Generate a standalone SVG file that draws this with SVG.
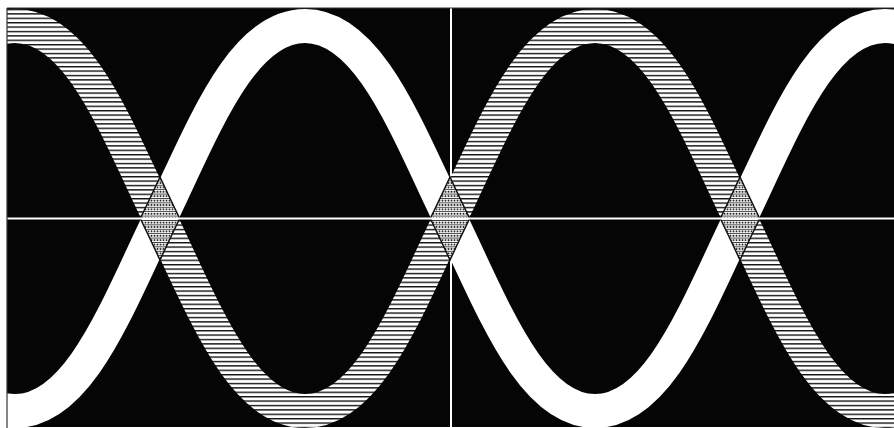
<svg xmlns="http://www.w3.org/2000/svg" width="894" height="428" viewBox="0 0 894 428">
<style>
.band{fill:none;stroke-width:34}
.ref{stroke:#fff;stroke-width:2}
</style>
<defs>
<pattern id="hatch" patternUnits="userSpaceOnUse" width="20" height="4.4">
<rect width="20" height="4.4" fill="#fff"/>
<rect y="0" width="20" height="1.4" fill="#111"/>
</pattern>
<pattern id="dots" patternUnits="userSpaceOnUse" width="3" height="4.4">
<rect width="3" height="4.4" fill="#fff"/>
<rect width="3" height="0.8" fill="#222"/>
<circle cx="1.5" cy="2.6" r="1" fill="#222"/>
</pattern>
<path id="hp" d="M -275 411 c 64 0,101.4 -102.5,145 -192.5 c 43.6 -90,81 -192.5,145 -192.5 c 64 0,101.4 102.5,145 192.5 c 43.6 90,81 192.5,145 192.5 c 64 0,101.4 -102.5,145 -192.5 c 43.6 -90,81 -192.5,145 -192.5 c 64 0,101.4 102.5,145 192.5 c 43.6 90,81 192.5,145 192.5 c 64 0,101.4 -102.5,145 -192.5 c 43.6 -90,81 -192.5,145 -192.5"/>
<path id="wp" d="M -275 26 c 64 0,101.4 102.5,145 192.5 c 43.6 90,81 192.5,145 192.5 c 64 0,101.4 -102.5,145 -192.5 c 43.6 -90,81 -192.5,145 -192.5 c 64 0,101.4 102.5,145 192.5 c 43.6 90,81 192.5,145 192.5 c 64 0,101.4 -102.5,145 -192.5 c 43.6 -90,81 -192.5,145 -192.5 c 64 0,101.4 102.5,145 192.5 c 43.6 90,81 192.5,145 192.5"/>
<clipPath id="frame"><rect x="7" y="8" width="887" height="420"/></clipPath>
<mask id="mH36" maskUnits="userSpaceOnUse" x="0" y="0" width="894" height="428">
<use href="#hp" fill="none" stroke="#fff" stroke-width="37"/>
</mask>
<mask id="mH34" maskUnits="userSpaceOnUse" x="0" y="0" width="894" height="428">
<use href="#hp" fill="none" stroke="#fff" stroke-width="34"/>
</mask>
</defs>
<rect width="894" height="428" fill="#fff"/>
<rect id="background" x="7" y="8" width="887" height="419" fill="#050505"/>
<g id="vertical-axis">
<line class="ref" x1="451" y1="8" x2="451" y2="427"/>
</g>
<g id="waves" clip-path="url(#frame)">
<g id="white-band"><use href="#wp" class="band" stroke="#fff"/></g>
<g id="hatched-band"><use href="#hp" class="band" stroke="url(#hatch)"/></g>
<g id="crossings">
<use href="#wp" fill="none" stroke="#111" stroke-width="37" mask="url(#mH36)"/>
<use href="#wp" fill="none" stroke="url(#dots)" stroke-width="34" mask="url(#mH34)"/>
</g>
</g>
<g id="horizontal-axis">
<line class="ref" x1="7" y1="218.5" x2="894" y2="218.5"/>
</g>
<g id="frame-edge" stroke="#333" stroke-width="1.2" fill="none">
<line x1="7" y1="8" x2="894" y2="8"/>
<line x1="7" y1="8" x2="7" y2="428"/>
</g>
</svg>
